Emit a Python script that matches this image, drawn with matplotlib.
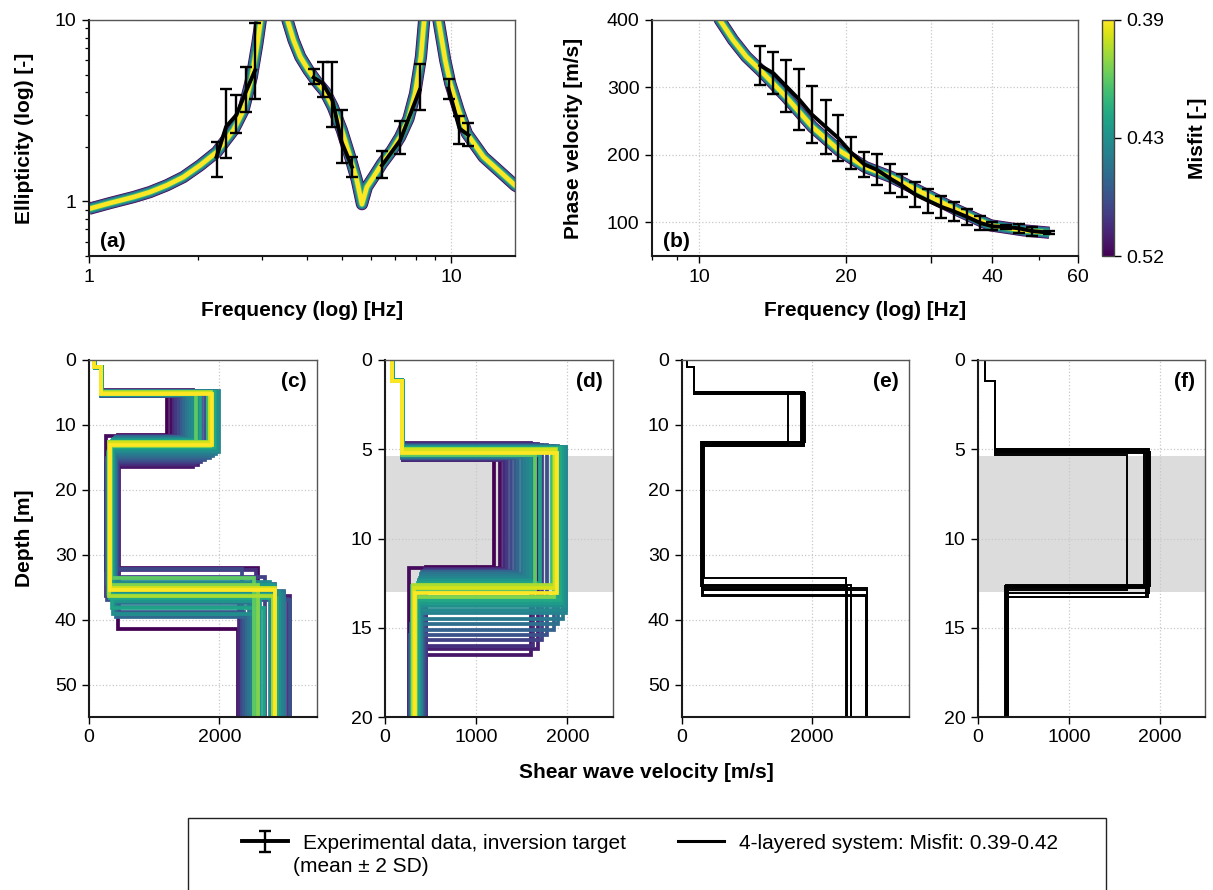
import numpy as np
import matplotlib
matplotlib.use("Agg")
import matplotlib.pyplot as plt
from matplotlib import colors, cm
from matplotlib.ticker import FixedLocator, FixedFormatter, NullFormatter, FuncFormatter
from matplotlib.lines import Line2D
from matplotlib.patches import Rectangle

plt.rcParams['font.family'] = ['Liberation Sans', 'DejaVu Sans']
plt.rcParams['font.size'] = 14

# ---- (a) ellipticity target: mean and +-2 SD bounds, one branch per peak flank
ell_freq = [2.25, 2.39, 2.55, 2.71, 2.875, 4.17, 4.42, 4.70, 4.98, 5.32, 6.44, 7.23, 8.18, 9.83, 10.54, 11.16]
ell_mean = [1.76, 2.58, 2.99, 4.02, 5.29, 4.82, 4.47, 3.61, 2.13, 1.55, 1.58, 2.17, 4.10, 4.19, 2.52, 2.32]
ell_low = [1.36, 1.74, 2.37, 3.12, 3.65, 4.43, 3.77, 2.58, 1.63, 1.36, 1.35, 1.83, 3.18, 3.69, 2.08, 2.02]
ell_high = [2.13, 4.19, 3.85, 5.52, 9.59, 5.34, 5.89, 5.84, 3.18, 1.76, 1.89, 2.77, 5.71, 4.72, 2.95, 2.71]
ell_branch = [0, 0, 0, 0, 0, 1, 1, 1, 1, 1, 2, 2, 2, 3, 3, 3]

# best-fit ellipticity curve, split at the two singular peaks
ell_model_f = [
    [1.0, 1.143, 1.326, 1.474, 1.639, 1.822, 2.026, 2.253, 2.505, 2.67, 2.815, 2.917, 2.98, 3.02],
    [3.49, 3.53, 3.67, 3.83, 4.035, 4.256, 4.486, 4.71, 4.99, 5.26, 5.49, 5.67, 5.85, 6.1, 6.44,
     6.86, 7.23, 7.62, 7.95, 8.25, 8.42, 8.47],
    [9.18, 9.22, 9.625, 9.94, 10.48, 11.05, 12.28, 13.66, 15.0, 15.5],
]
ell_model_e = [
    [0.91, 0.979, 1.056, 1.126, 1.226, 1.362, 1.58, 1.873, 2.47, 3.18, 4.86, 7.43, 10.0, 14.0],
    [14.0, 10.0, 7.75, 6.27, 5.29, 4.56, 4.02, 3.32, 2.47, 1.758, 1.306, 0.965, 1.2, 1.362, 1.615,
     1.913, 2.27, 2.86, 3.94, 6.27, 10.0, 14.0],
    [14.0, 10.0, 6.01, 4.47, 3.18, 2.366, 1.758, 1.452, 1.226, 1.18],
]

# ---- (b) phase velocity target (mean +- 2 SD)
ph_freq = [13.35, 14.21, 15.08, 16.05, 17.03, 18.19, 19.30, 20.54, 21.83, 23.16, 24.66, 26.16,
           27.8, 29.5, 31.4, 33.4, 35.5, 37.8, 40.0, 42.6, 45.4, 48.3, 52.4]
ph_mean = [332.6, 321, 302, 282, 260, 241.5, 225, 203, 186, 178, 165, 154,
           141, 132, 123, 116, 108, 99, 94, 93, 91, 87, 84.5]
ph_2sd = [29, 31, 39, 45, 42, 40, 34, 23.5, 18.5, 23, 21, 17,
          18.5, 18, 16.6, 14, 12.4, 10, 6, 2.5, 7, 6.7, 2]

ph_model_f = [10.75, 11.03, 11.74, 12.5, 13.35, 15.08, 17.08, 19.36, 21.93, 24.8, 29.0, 33.96, 39.7, 46.4, 52.4]
ph_model_v = [420, 400, 370.3, 345.5, 325.7, 286, 241.5, 206.8, 182, 167.2, 142.5, 117.6, 95.4, 88, 84.5]

# misfit levels of the model band around the best curve (outer -> inner)
band_misfit = [0.52, 0.47, 0.445, 0.43, 0.415, 0.39]
band_width = [8.8, 7.8, 6.7, 5.6, 4.5, 3.3]

# ---- Vs profiles of the inverted models, worst misfit first
vs_misfit = [0.520, 0.515, 0.510, 0.505, 0.500, 0.495, 0.490, 0.485, 0.480, 0.475,
             0.470, 0.465, 0.460, 0.455, 0.450, 0.447, 0.444, 0.441, 0.438, 0.435,
             0.432, 0.430, 0.428, 0.426, 0.424, 0.422,
             0.420, 0.418, 0.415, 0.410, 0.405, 0.400, 0.395, 0.390]
vs_d1 = [1.20, 1.15, 1.10, 1.20, 1.15, 1.10, 1.20, 1.15, 1.10, 1.20, 1.15, 1.10, 1.20,
         1.15, 1.10, 1.20, 1.15, 1.10, 1.20, 1.15, 1.10, 1.20, 1.15, 1.10, 1.20, 1.15,
         1.15, 1.15, 1.15, 1.15, 1.15, 1.15, 1.15, 1.15]
vs_v1 = [85, 75, 80, 85, 75, 80, 85, 75, 80, 85, 75, 80, 85,
         75, 80, 85, 75, 80, 85, 75, 80, 85, 75, 80, 85, 75,
         80, 80, 80, 80, 80, 80, 80, 80]
vs_v2 = [200, 195, 190, 200, 195, 190, 200, 195, 190, 200, 195, 190, 200,
         195, 190, 200, 195, 190, 200, 195, 190, 200, 195, 190, 200, 195,
         185, 185, 185, 185, 185, 185, 185, 185]
vs_d2 = [5.60, 5.55, 4.65, 4.70, 5.60, 4.70, 5.55, 4.75, 5.50, 4.75, 5.50, 4.80, 5.45,
         4.80, 5.45, 4.85, 5.40, 4.85, 5.40, 4.90, 5.35, 4.90, 5.35, 4.95, 5.30, 4.95,
         5.00, 5.15, 5.05, 5.30, 5.10, 5.00, 5.05, 5.20]
vs_v3 = [1200, 1265, 1600, 1680, 1300, 1620, 1340, 1720, 1380, 1780, 1420, 1850, 1460,
         1900, 1500, 1950, 1540, 1990, 1570, 1980, 1600, 1960, 1650, 1940, 1700, 1920,
         1875, 1890, 1830, 1640, 1850, 1880, 1860, 1885]
vs_d3 = [11.60, 11.65, 16.55, 16.20, 11.70, 16.00, 11.75, 15.70, 11.80, 15.40, 11.85, 15.10, 11.90,
         14.80, 12.00, 14.50, 12.10, 14.20, 12.20, 14.00, 12.30, 13.80, 12.40, 13.60, 12.50, 13.45,
         13.25, 12.65, 12.70, 12.90, 13.30, 12.60, 12.75, 13.07]
vs_v4 = [445, 262, 455, 268, 440, 265, 450, 272, 430, 278, 420, 283, 410,
         288, 400, 292, 390, 296, 382, 300, 375, 305, 368, 310, 360, 315,
         325, 300, 310, 335, 315, 305, 320, 330]
vs_d4 = [41.4, 32.0, 39.0, 36.4, 36.0, 32.3, 36.8, 33.5, 32.2, 37.0, 38.8, 34.5, 39.6,
         35.6, 37.5, 35.8, 33.6, 36.0, 38.0, 34.2, 39.2, 35.8, 37.2, 34.6, 38.2, 36.6,
         36.2, 34.8, 35.5, 33.6, 34.7, 36.3, 35.2, 35.5]
vs_v5 = [2290, 2600, 2330, 3080, 2310, 2560, 3060, 2700, 2350, 3090, 2380, 2860, 2420,
         3000, 2460, 2990, 2500, 2960, 2540, 2780, 2580, 2920, 2620, 2850, 2680, 2880,
         2830, 2540, 2600, 2535, 2600, 2830, 2850, 2850]
best_limit = 0.42
max_depth = 60
shade_top, shade_bottom = 5.4, 13.0

# colour scale: 0.39 (yellow) .. 0.43 (mid) .. 0.52 (purple)
norm = colors.FuncNorm((lambda x: np.interp(x, [0.39, 0.43, 0.52], [0, 0.5, 1]),
                        lambda x: np.interp(x, [0, 0.5, 1], [0.39, 0.43, 0.52])),
                       vmin=0.39, vmax=0.52)
cmap = plt.get_cmap('viridis_r')

W, H = 1213, 890
fig = plt.figure(figsize=(W / 100, H / 100), dpi=100)


def px_axes(x0, y0, x1, y1):
    return fig.add_axes([x0 / W, 1 - y1 / H, (x1 - x0) / W, (y1 - y0) / H])


def style(ax):
    for s in ['left', 'bottom']:
        ax.spines[s].set_linewidth(1.5)
        ax.spines[s].set_color('#1a1a1a')
    for s in ['top', 'right']:
        ax.spines[s].set_linewidth(1.0)
        ax.spines[s].set_color('#555555')
    ax.tick_params(which='major', length=5, width=1.0, pad=4, labelsize=14)
    ax.tick_params(which='minor', length=3, width=0.9)
    ax.grid(True, which='major', ls=':', color='#c8c8c8', lw=0.9)
    ax.set_axisbelow(True)


plain = FuncFormatter(lambda x, p: f'{x:g}')

# ---------------- (a)
ax_a = px_axes(89, 20, 515, 256)
for m, w in zip(band_misfit, band_width):
    for f, e in zip(ell_model_f, ell_model_e):
        ax_a.plot(f, e, color=cmap(norm(m)), lw=w, solid_joinstyle='round', solid_capstyle='butt')
for b in sorted(set(ell_branch)):
    idx = [i for i, g in enumerate(ell_branch) if g == b]
    f = np.array(ell_freq)[idx]
    mu = np.array(ell_mean)[idx]
    lo = np.array(ell_low)[idx]
    hi = np.array(ell_high)[idx]
    ax_a.errorbar(f, mu, yerr=[mu - lo, hi - mu], color='k', lw=2.8, elinewidth=1.7,
                  capsize=4.2, capthick=1.7, zorder=4)
ax_a.set_xscale('log')
ax_a.set_yscale('log')
ax_a.set_xlim(1, 15)
ax_a.set_ylim(0.5, 10)
ax_a.xaxis.set_major_locator(FixedLocator([1, 10]))
ax_a.xaxis.set_minor_locator(FixedLocator([2, 3, 4, 5, 6, 7, 8, 9]))
ax_a.yaxis.set_major_locator(FixedLocator([1, 10]))
ax_a.yaxis.set_minor_locator(FixedLocator([0.5, 0.6, 0.7, 0.8, 0.9, 2, 3, 4, 5, 6, 7, 8, 9]))
for axis in (ax_a.xaxis, ax_a.yaxis):
    axis.set_major_formatter(plain)
    axis.set_minor_formatter(NullFormatter())
style(ax_a)
ax_a.set_xlabel('Frequency (log) [Hz]', fontsize=15, fontweight='bold')
ax_a.set_ylabel('Ellipticity (log) [-]', fontsize=15, fontweight='bold')
ax_a.xaxis.set_label_coords(0.5, -0.19)
ax_a.yaxis.set_label_coords(-0.128, 0.5)
ax_a.text(0.025, 0.04, '(a)', transform=ax_a.transAxes, fontsize=15, fontweight='bold')

# ---------------- (b)
ax_b = px_axes(652, 20, 1078, 256)
for m, w in zip(band_misfit, band_width):
    ax_b.plot(ph_model_f, ph_model_v, color=cmap(norm(m)), lw=w, solid_joinstyle='round',
              solid_capstyle='butt')
eb = ax_b.errorbar(ph_freq, ph_mean, yerr=ph_2sd, color='k', lw=2.8, elinewidth=1.7,
                   capsize=4.2, capthick=1.7, zorder=4)
ax_b.set_xscale('log')
ax_b.set_xlim(8, 60)
ax_b.set_ylim(50, 400)
ax_b.xaxis.set_major_locator(FixedLocator([10, 20, 30, 40, 60]))
ax_b.xaxis.set_major_formatter(FixedFormatter(['10', '20', '', '40', '60']))
ax_b.xaxis.set_minor_locator(FixedLocator([8, 9, 50]))
ax_b.xaxis.set_minor_formatter(NullFormatter())
ax_b.set_yticks([100, 200, 300, 400])
style(ax_b)
ax_b.set_xlabel('Frequency (log) [Hz]', fontsize=15, fontweight='bold')
ax_b.set_ylabel('Phase velocity [m/s]', fontsize=15, fontweight='bold')
ax_b.xaxis.set_label_coords(0.5, -0.19)
ax_b.yaxis.set_label_coords(-0.162, 0.5)
ax_b.text(0.025, 0.04, '(b)', transform=ax_b.transAxes, fontsize=15, fontweight='bold')

# colour bar
cax = px_axes(1102, 20, 1114, 256)
sm = cm.ScalarMappable(norm=norm, cmap=cmap)
cb = fig.colorbar(sm, cax=cax, ticks=[0.39, 0.43, 0.52])
cb.ax.invert_yaxis()
cb.set_ticklabels(['0.39', '0.43', '0.52'])
cb.outline.set_edgecolor('#444444')
cb.outline.set_linewidth(1.0)
cb.ax.tick_params(length=5, width=1.0, pad=4, labelsize=14)
cb.ax.minorticks_off()
cb.set_label('Misfit [-]', fontsize=15, fontweight='bold')
cb.ax.yaxis.set_label_coords(7.2, 0.5)


# ---------------- (c)-(f) shear-wave velocity profiles
def profile(i):
    d = [0, vs_d1[i], vs_d1[i], vs_d2[i], vs_d2[i], vs_d3[i], vs_d3[i], vs_d4[i], vs_d4[i], max_depth]
    v = [vs_v1[i], vs_v1[i], vs_v2[i], vs_v2[i], vs_v3[i], vs_v3[i], vs_v4[i], vs_v4[i], vs_v5[i], vs_v5[i]]
    return v, d


panels = [
    ('(c)', 89, 317, 3500, [0, 2000], 55, [0, 10, 20, 30, 40, 50], False, False),
    ('(d)', 385, 613, 2500, [0, 1000, 2000], 20, [0, 5, 10, 15, 20], False, True),
    ('(e)', 682, 909, 3500, [0, 2000], 55, [0, 10, 20, 30, 40, 50], True, False),
    ('(f)', 978, 1205, 2500, [0, 1000, 2000], 20, [0, 5, 10, 15, 20], True, True),
]
for lab, x0, x1, xmax, xt, dmax, yt, best_only, shade in panels:
    ax = px_axes(x0, 360, x1, 717)
    if shade:
        ax.axhspan(shade_top, shade_bottom, color='#dcdcdc', lw=0, zorder=0)
    for i, m in enumerate(vs_misfit):
        v, d = profile(i)
        if best_only:
            if m <= best_limit:
                ax.plot(v, d, color='k', lw=1.4, solid_joinstyle='miter')
        else:
            ax.plot(v, d, color=cmap(norm(m)), lw=2.7, solid_joinstyle='miter',
                    solid_capstyle='butt')
    ax.set_xlim(0, xmax)
    ax.set_ylim(dmax, 0)
    ax.set_xticks(xt)
    ax.set_yticks(yt)
    style(ax)
    ax.text(0.955, 0.965, lab, transform=ax.transAxes, ha='right', va='top',
            fontsize=15, fontweight='bold')
    if lab == '(c)':
        ax.set_ylabel('Depth [m]', fontsize=15, fontweight='bold')
        ax.yaxis.set_label_coords(-0.241, 0.5)

fig.text(646 / W, 1 - 773 / H, 'Shear wave velocity [m/s]', ha='center', va='center',
         fontsize=15, fontweight='bold')

# ---------------- legend
fig.add_artist(Rectangle((188 / W, -0.01), (1106 - 188) / W, (H - 818) / H + 0.01,
                         transform=fig.transFigure, fill=False, edgecolor='#222222', lw=1.0))
fig.legend([eb, Line2D([0], [0], color='k', lw=2.2)],
           ['Experimental data, inversion target', '4-layered system: Misfit: 0.39-0.42'],
           loc='upper left', bbox_to_anchor=(223.7 / W, 1 - 815 / H), ncol=2, frameon=False,
           fontsize=15, handlelength=2.2, handletextpad=0.72, columnspacing=2.5)
fig.text(293 / W, 1 - 866 / H, '(mean \u00b1 2 SD)', ha='left', va='center', fontsize=15)

fig.savefig('out.png', dpi=100)
